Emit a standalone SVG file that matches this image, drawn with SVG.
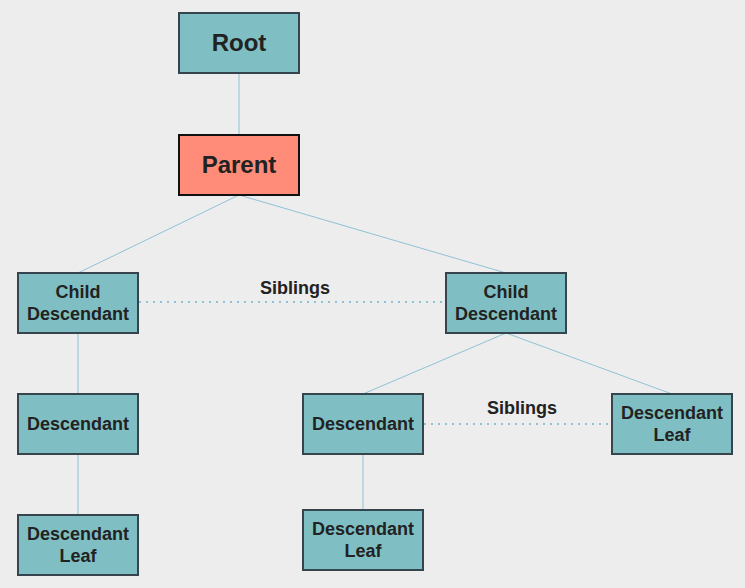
<svg xmlns="http://www.w3.org/2000/svg" width="745" height="588" viewBox="0 0 745 588">
<style>
.n{fill:#7fbfc3;stroke:#36444d;stroke-width:2}
.p{fill:#ff8c78;stroke:#111;stroke-width:2}
.t{font-family:"Liberation Sans",Arial,sans-serif;font-weight:bold;font-size:18px;fill:#222;text-anchor:middle}
.b{font-size:24px}
.e{stroke:#8fc2d6;stroke-width:1;fill:none}
.d{stroke:#8fc2d6;stroke-width:2;stroke-dasharray:2 5;fill:none}
</style>
<rect width="745" height="588" fill="#ededed"/>
<g id="connectors">
<path class="e" d="M239 73V135M239 195L78 273M239 195L506 273M78 333V394M78 454V515M506 333L363 394M506 333L672 394M363 454V510"/>
<path class="d" d="M139 302H446M424 424H612"/>
<text class="t" x="295" y="294">Siblings</text>
<text class="t" x="522" y="414">Siblings</text>
</g>
<g id="root"><rect class="n" x="179" y="13" width="120" height="60"/><text class="t b" x="239" y="51">Root</text></g>
<g id="parent"><rect class="p" x="179" y="135" width="120" height="60"/><text class="t b" x="239" y="173">Parent</text></g>
<g id="child1"><rect class="n" x="18" y="273" width="120" height="60"/><text class="t" x="78" y="298">Child</text><text class="t" x="78" y="320">Descendant</text></g>
<g id="child2"><rect class="n" x="446" y="273" width="120" height="60"/><text class="t" x="506" y="298">Child</text><text class="t" x="506" y="320">Descendant</text></g>
<g id="desc1"><rect class="n" x="18" y="394" width="120" height="60"/><text class="t" x="78" y="430">Descendant</text></g>
<g id="leaf1"><rect class="n" x="18" y="515" width="120" height="60"/><text class="t" x="78" y="540">Descendant</text><text class="t" x="78" y="562">Leaf</text></g>
<g id="desc2"><rect class="n" x="303" y="394" width="120" height="60"/><text class="t" x="363" y="430">Descendant</text></g>
<g id="leaf2"><rect class="n" x="303" y="510" width="120" height="60"/><text class="t" x="363" y="535">Descendant</text><text class="t" x="363" y="557">Leaf</text></g>
<g id="leaf3"><rect class="n" x="612" y="394" width="120" height="60"/><text class="t" x="672" y="419">Descendant</text><text class="t" x="672" y="441">Leaf</text></g>
</svg>
